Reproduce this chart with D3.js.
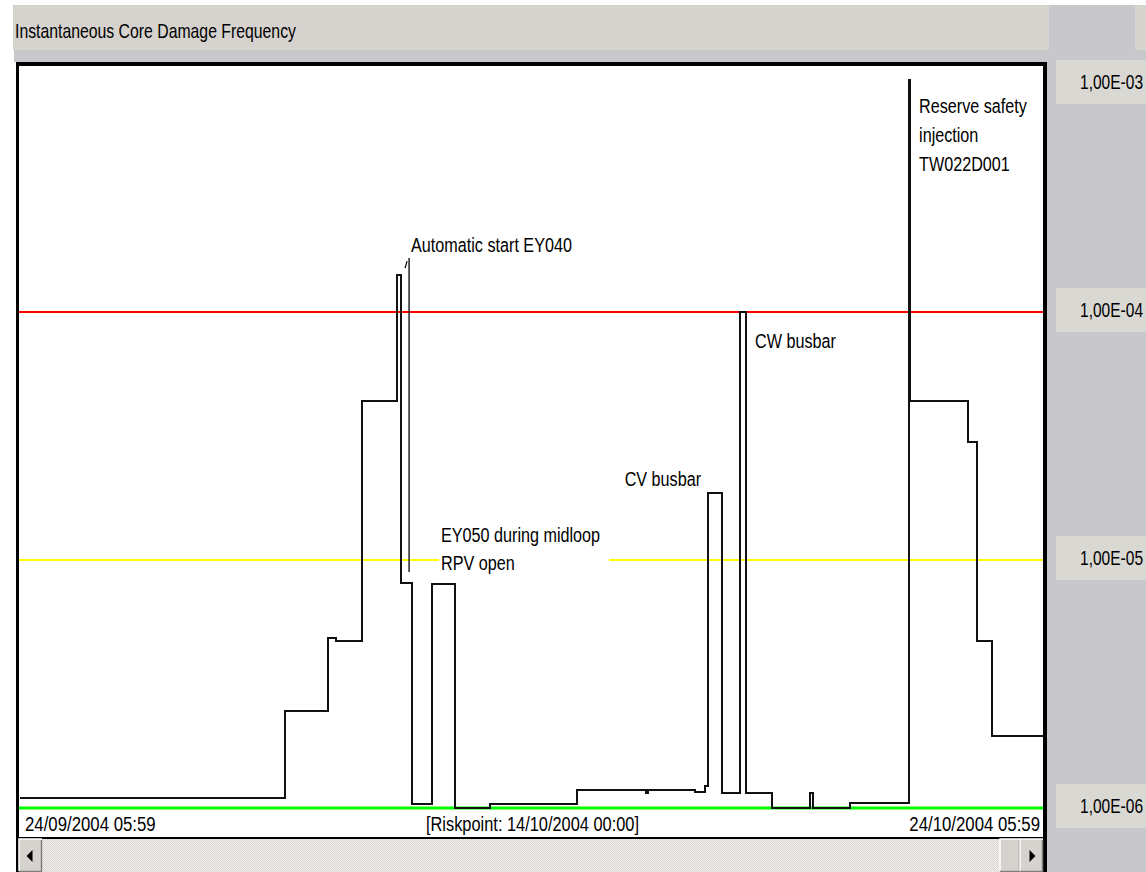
<!DOCTYPE html>
<html>
<head>
<meta charset="utf-8">
<script src="https://cdn.jsdelivr.net/npm/d3@7"></script>
<style>
  html, body { margin: 0; padding: 0; background: #fff; overflow: hidden; }
  svg { display: block; }
</style>
</head>
<body>
<svg id="chart" width="1146" height="872"></svg>
<script>
// ---- Data -------------------------------------------------------------
const chartTitle = "Instantaneous Core Damage Frequency";
const windowStartLabel = "24/09/2004 05:59";
const windowEndLabel = "24/10/2004 05:59";
const riskpointLabel = "[Riskpoint: 14/10/2004 00:00]";
const windowHours = 720; // 30 days

// Step series: hours since window start, and the core damage frequency from that moment on
const stepHours = [0, 186.1, 216.4, 222.0, 240.2, 264.8, 267.6, 275.4, 289.4, 305.6,
  330.1, 391.3, 439.7, 440.8, 474.1, 481.2, 483.3, 493.1, 505.8, 510.0,
  528.2, 554.9, 557.0, 583.0, 624.5, 624.9, 665.9, 672.2, 682.8];
const stepValues = [1.10e-6, 2.46e-6, 4.84e-6, 4.71e-6, 4.38e-5, 1.41e-4, 8.07e-6, 1.04e-6, 8.0e-6, 1.0e-6,
  1.04e-6, 1.18e-6, 1.15e-6, 1.18e-6, 1.16e-6, 1.23e-6, 1.86e-5, 1.15e-6, 1.0e-4, 1.15e-6,
  1.0e-6, 1.15e-6, 1.0e-6, 1.05e-6, 8.6e-4, 4.38e-5, 2.99e-5, 4.71e-6, 1.95e-6];

// Axis ticks (log scale) and their labels
const tickValues = [1e-3, 1e-4, 1e-5, 1e-6];
const tickLabels = ["1,00E-03", "1,00E-04", "1,00E-05", "1,00E-06"];

// Threshold lines
const thresholdValues = [1e-4, 1e-5, 1e-6];
const thresholdColors = ["#ff0000", "#ffff00", "#00ff00"];

// Event annotations: anchor point (hours, value) and text lines
const annotationHours = [273.3, 289.4, 483.3, 505.8, 624.5];
const annotationValues = [1.65e-4, 8.0e-6, 1.86e-5, 1.0e-4, 8.6e-4];
const annotationTexts = [
  ["Automatic start EY040"],
  ["EY050 during midloop", "RPV open"],
  ["CV busbar"],
  ["CW busbar"],
  ["Reserve safety", "injection", "TW022D001"]
];
// Leader for the EY040 event (hours, from value, to value)
const leaderHour = 273.3;
const leaderFrom = 8.95e-6;
const leaderTo = 1.65e-4;

// ---- Layout -----------------------------------------------------------
const W = 1146, H = 872;
const plot = { left: 20, right: 1045, top: 64, bottom: 808 };
const frame = { left: 16, right: 1047, top: 62, bottom: 839 };
const FONT = "'Liberation Sans', Arial, sans-serif";
const SQUEEZE = 0.77;
const BTN = "#d6d3ce";
const BG = "#c8c7cb";

// label placement relative to each anchor: dx, first baseline dy, text anchor
const annotationLayout = [
  { dx: 2, dy: -6, anchor: "start", lineGap: 29 },
  { dx: 9, dy: -42, anchor: "start", lineGap: 28 },
  { dx: -7, dy: -7, anchor: "end", lineGap: 28 },
  { dx: 15, dy: 36, anchor: "start", lineGap: 28 },
  { dx: 10, dy: 33, anchor: "start", lineGap: 29 }
];

const x = d3.scaleLinear().domain([0, windowHours]).range([plot.left, plot.right]);
const y = d3.scaleLog().domain([1e-6, 1e-3]).range([plot.bottom, plot.top]);

const svg = d3.select("#chart");

// condensed text helper: text drawn at (px,py), horizontally squeezed
function squeezedText(parent, px, py, str, opts = {}) {
  const g = parent.append("g")
    .attr("transform", `translate(${px},${py}) scale(${opts.k || SQUEEZE},1)`);
  g.append("text")
    .attr("x", 0).attr("y", 0)
    .attr("text-anchor", opts.anchor || "start")
    .attr("font-family", FONT)
    .attr("font-size", opts.size || 21)
    .attr("fill", opts.fill || "#000")
    .text(str);
  return g;
}

// ---- Window chrome ----------------------------------------------------
svg.append("rect").attr("width", W).attr("height", H).attr("fill", BG);
svg.append("rect").attr("x", 0).attr("y", 0).attr("width", W).attr("height", 5).attr("fill", "#fff");
svg.append("rect").attr("x", 0).attr("y", 0).attr("width", 14).attr("height", H).attr("fill", "#fff");
svg.append("rect").attr("x", 14).attr("y", 62).attr("width", 2).attr("height", H - 62).attr("fill", "#fff");

// title panel
svg.append("rect").attr("x", 13).attr("y", 5).attr("width", 1036).attr("height", 45).attr("fill", BTN);
svg.append("rect").attr("x", 1135).attr("y", 5).attr("width", 11).attr("height", 45).attr("fill", BTN);
squeezedText(svg, 15, 38, chartTitle, { size: 20, k: 0.79 });

// frame + plot background
svg.append("rect")
  .attr("x", frame.left).attr("y", frame.top)
  .attr("width", frame.right - frame.left).attr("height", H - frame.top)
  .attr("fill", "#000");
svg.append("rect")
  .attr("x", 19).attr("y", 66)
  .attr("width", 1043 - 19).attr("height", 837 - 66)
  .attr("fill", "#fff");

const plotG = svg.append("g");

// threshold lines
plotG.selectAll("line.threshold")
  .data(thresholdValues)
  .join("line")
  .attr("class", "threshold")
  .attr("x1", 19).attr("x2", 1043)
  .attr("y1", d => y(d)).attr("y2", d => y(d))
  .attr("stroke", (d, i) => thresholdColors[i])
  .attr("stroke-width", (d, i) => i === 2 ? 3 : 2);

// step series
const stepPoints = stepHours.map((h, i) => [h, stepValues[i]]);
stepPoints.push([windowHours, stepValues[stepValues.length - 1]]);
const stepLine = d3.line()
  .x(d => x(d[0]))
  .y(d => y(d[1]))
  .curve(d3.curveStepAfter);
plotG.append("path")
  .datum(stepPoints)
  .attr("d", stepLine)
  .attr("fill", "none")
  .attr("stroke", "#111")
  .attr("stroke-width", 2)
  .attr("shape-rendering", "crispEdges");

// annotations (white box behind the midloop note hides the line beneath)
annotationTexts.forEach((lines, i) => {
  const L = annotationLayout[i];
  const ax = x(annotationHours[i]) + L.dx;
  const ay = y(annotationValues[i]) + L.dy;
  const g = plotG.append("g");
  const bg = g.append("rect").attr("fill", "#fff");
  const items = lines.map((t, j) => squeezedText(g, ax, ay + j * L.lineGap, t, { anchor: L.anchor }));
  let x0 = Infinity, x1 = -Infinity, y0 = Infinity, y1 = -Infinity;
  items.forEach(it => {
    const b = it.node().getBoundingClientRect();
    x0 = Math.min(x0, b.left); x1 = Math.max(x1, b.right);
    y0 = Math.min(y0, b.top); y1 = Math.max(y1, b.bottom);
  });
  if (i === 1) {
    bg.attr("x", x0 - 2).attr("y", y0 - 2).attr("width", x1 - x0 + 11).attr("height", y1 - y0 + 2);
  } else {
    bg.remove();
  }
});

// leader for EY040
const lx = x(leaderHour);
plotG.append("path")
  .attr("d", `M${lx},${y(leaderFrom)} L${lx},${y(leaderTo)}`)
  .attr("stroke", "#000").attr("stroke-width", 1.3).attr("fill", "none");
plotG.append("path")
  .attr("d", `M${lx - 4},${y(leaderTo) + 10} L${lx - 2},${y(leaderTo) + 3}`)
  .attr("stroke", "#000").attr("stroke-width", 1.2).attr("fill", "none");

// frame borders drawn over the series
svg.append("rect").attr("x", frame.left).attr("y", frame.top).attr("width", frame.right - frame.left).attr("height", 4).attr("fill", "#000");
svg.append("rect").attr("x", 1043).attr("y", frame.top).attr("width", 4).attr("height", H - frame.top).attr("fill", "#000");
svg.append("rect").attr("x", frame.left).attr("y", frame.top).attr("width", 3).attr("height", H - frame.top).attr("fill", "#000");

// time band below the plot
svg.append("rect").attr("x", 19).attr("y", 810).attr("width", 1024).attr("height", 27).attr("fill", "#fff");
svg.append("rect").attr("x", 19).attr("y", 837).attr("width", 1024).attr("height", 2).attr("fill", "#000");
squeezedText(svg, 25, 831, windowStartLabel, { k: 0.8 });
squeezedText(svg, (plot.left + plot.right) / 2, 831, riskpointLabel, { anchor: "middle", k: 0.78 });
squeezedText(svg, 1040, 831, windowEndLabel, { anchor: "end", k: 0.8 });

// horizontal scrollbar
const defs = svg.append("defs");
const pat = defs.append("pattern").attr("id", "dither").attr("width", 2).attr("height", 2).attr("patternUnits", "userSpaceOnUse");
pat.append("rect").attr("width", 2).attr("height", 2).attr("fill", "#f4f3f1");
pat.append("rect").attr("width", 1).attr("height", 1).attr("fill", BTN);
pat.append("rect").attr("x", 1).attr("y", 1).attr("width", 1).attr("height", 1).attr("fill", BTN);

const sb = svg.append("g");
sb.append("rect").attr("x", 19).attr("y", 839).attr("width", 1024).attr("height", 33).attr("fill", "url(#dither)");
function button(bx, bw, arrow) {
  sb.append("rect").attr("x", bx).attr("y", 839).attr("width", bw).attr("height", 33).attr("fill", BTN);
  sb.append("path").attr("d", `M${bx},871 V839 H${bx + bw}`).attr("stroke", "#fff").attr("stroke-width", 1.5).attr("fill", "none");
  sb.append("path").attr("d", `M${bx + bw - 0.5},840 V871.5 H${bx}`).attr("stroke", "#808080").attr("stroke-width", 1.5).attr("fill", "none");
  if (arrow === "left") {
    const cx = bx + bw / 2 - 1;
    sb.append("path").attr("d", `M${cx - 3},856 L${cx + 3},850 L${cx + 3},862 Z`).attr("fill", "#000");
  } else if (arrow === "right") {
    const cx = bx + bw / 2 + 1;
    sb.append("path").attr("d", `M${cx + 3},856 L${cx - 3},850 L${cx - 3},862 Z`).attr("fill", "#000");
  }
}
button(19, 23, "left");
button(1000, 20, null);
button(1020, 23, "right");

// value axis on the right: labelled boxes at each decade
const axisG = svg.append("g");
tickValues.forEach((v, i) => {
  const cy = y(v) - 2;
  const top = Math.max(60, cy - 22);
  axisG.append("rect")
    .attr("x", 1056).attr("y", top)
    .attr("width", W - 1056).attr("height", 44)
    .attr("fill", "#dad8d3");
  squeezedText(axisG, 1080, top + 22 + 7, tickLabels[i], { k: 0.74 });
});
</script>
</body>
</html>
